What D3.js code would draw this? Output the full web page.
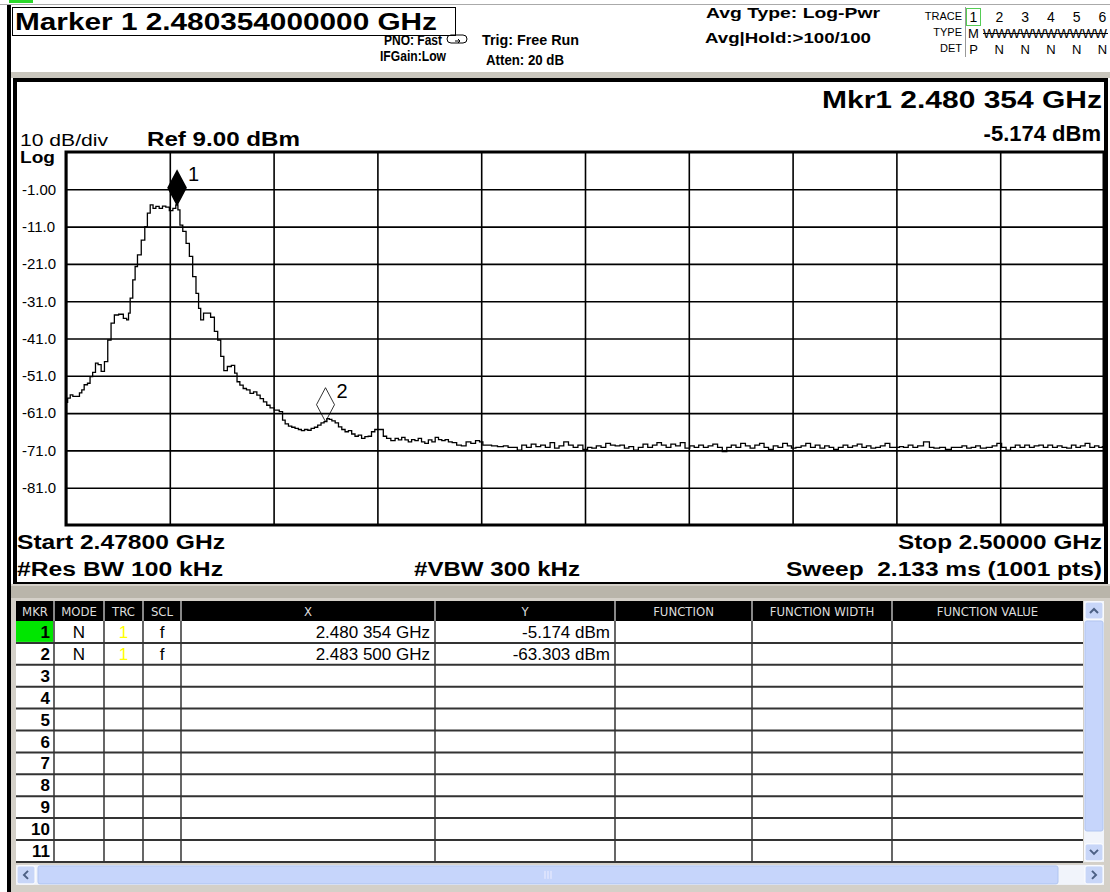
<!DOCTYPE html>
<html>
<head>
<meta charset="utf-8">
<script src="https://cdn.jsdelivr.net/npm/d3@7"></script>
<style>
  body { margin: 0; background: #fff; }
  text { font-family: "Liberation Sans", Arial, sans-serif; }
  .narrow { font-family: "Liberation Sans Narrow", "DejaVu Sans Condensed", "Liberation Sans", sans-serif; }
</style>
</head>
<body>
<svg id="chart" width="1110" height="892"></svg>
<script>
const svg = d3.select('#chart');

// trace 1 (MHz, dBm)
const traceFreq = [
  2478.00, 2478.07, 2478.11, 2478.18, 2478.25, 2478.32, 2478.35, 2478.42, 2478.49, 2478.53,
  2478.60, 2478.65, 2478.71, 2478.78, 2478.85, 2478.92, 2478.99, 2479.06, 2479.17, 2479.26,
  2479.31, 2479.34, 2479.38, 2479.45, 2479.48, 2479.55, 2479.64, 2479.70, 2479.75, 2479.82,
  2479.87, 2479.94, 2480.01, 2480.08, 2480.15, 2480.23, 2480.30, 2480.354, 2480.39, 2480.44,
  2480.51, 2480.58, 2480.65, 2480.72, 2480.79, 2480.83, 2480.88, 2480.95, 2481.02, 2481.11,
  2481.18, 2481.25, 2481.31, 2481.38, 2481.46, 2481.55, 2481.60, 2481.65, 2481.72, 2481.79,
  2481.86, 2481.94, 2482.01, 2482.08, 2482.15, 2482.22, 2482.29, 2482.36, 2482.47, 2482.57,
  2482.61, 2482.68, 2482.75, 2482.82, 2482.89, 2482.96, 2483.02, 2483.09, 2483.16, 2483.23,
  2483.30, 2483.37, 2483.44, 2483.50, 2483.56, 2483.60, 2483.67, 2483.74, 2483.81, 2483.88,
  2483.95, 2484.02, 2484.09, 2484.16, 2484.23, 2484.30, 2484.37, 2484.44, 2484.51, 2484.58,
  2484.69, 2484.76, 2484.83, 2484.94, 2485.01, 2485.08, 2485.15, 2485.22, 2485.29, 2485.36,
  2485.43, 2485.50, 2485.57, 2485.64, 2485.72, 2485.79, 2485.86, 2485.93, 2486.00, 2486.07,
  2486.14, 2486.23, 2486.33, 2486.43, 2486.53, 2486.63, 2486.73, 2486.80, 2486.87, 2486.97,
  2487.07, 2487.22, 2487.32, 2487.42, 2487.52, 2487.61, 2487.71, 2487.81, 2487.91, 2488.01,
  2488.11, 2488.21, 2488.31, 2488.40, 2488.50, 2488.60, 2488.70, 2488.80, 2488.90, 2489.01,
  2489.10, 2489.19, 2489.29, 2489.39, 2489.49, 2489.59, 2489.69, 2489.79, 2489.88, 2489.98,
  2490.08, 2490.18, 2490.28, 2490.38, 2490.48, 2490.57, 2490.67, 2490.77, 2490.87, 2490.97,
  2491.07, 2491.17, 2491.27, 2491.36, 2491.46, 2491.56, 2491.66, 2491.76, 2491.86, 2491.96,
  2492.05, 2492.15, 2492.25, 2492.35, 2492.45, 2492.55, 2492.65, 2492.75, 2492.84, 2492.94,
  2493.04, 2493.14, 2493.24, 2493.34, 2493.41, 2493.53, 2493.63, 2493.73, 2493.83, 2493.93,
  2494.03, 2494.13, 2494.22, 2494.32, 2494.42, 2494.52, 2494.62, 2494.72, 2494.82, 2494.92,
  2495.01, 2495.11, 2495.21, 2495.31, 2495.41, 2495.51, 2495.63, 2495.70, 2495.80, 2495.90,
  2496.00, 2496.10, 2496.25, 2496.35, 2496.44, 2496.59, 2496.69, 2496.84, 2496.94, 2497.04,
  2497.14, 2497.23, 2497.33, 2497.43, 2497.58, 2497.68, 2497.78, 2497.88, 2497.97, 2498.07,
  2498.17, 2498.27, 2498.37, 2498.47, 2498.57, 2498.67, 2498.76, 2498.86, 2498.96, 2499.06,
  2499.16, 2499.26, 2499.36, 2499.45, 2499.55, 2499.65, 2499.75, 2499.85, 2499.93, 2500.00
];
const traceLevel = [
  -58.1, -57.0, -56.1, -56.5, -56.5, -55.6, -54.8, -53.4, -53.0, -51.2,
  -50.1, -47.6, -48.0, -49.8, -47.2, -41.4, -36.9, -34.7, -34.5, -35.6,
  -36.0, -34.2, -30.2, -25.3, -21.7, -18.6, -14.6, -11.0, -7.4, -5.2,
  -6.1, -5.6, -6.1, -5.5, -5.8, -6.7, -6.1, -5.174, -6.5, -10.6,
  -12.3, -15.5, -19.0, -24.4, -28.9, -32.9, -36.0, -34.2, -34.2, -35.3,
  -39.1, -41.4, -45.8, -49.6, -48.5, -48.2, -50.3, -52.6, -53.5, -54.4,
  -54.8, -55.7, -55.3, -56.2, -57.1, -58.0, -58.9, -59.6, -60.2, -60.6,
  -62.9, -63.9, -64.5, -64.8, -65.1, -65.4, -65.7, -65.4, -65.6, -65.1,
  -64.8, -64.2, -63.6, -63.303, -62.5, -62.7, -63.1, -63.6, -64.7, -65.4,
  -66.0, -65.7, -66.6, -67.2, -66.9, -67.8, -67.3, -67.2, -66.0, -65.4,
  -65.4, -67.2, -67.8, -68.4, -67.8, -68.2, -67.5, -68.2, -68.7, -68.1,
  -68.4, -67.8, -68.7, -69.1, -68.2, -68.7, -67.5, -68.1, -68.4, -68.1,
  -68.7, -68.9, -69.6, -69.8, -68.7, -69.1, -68.4, -68.7, -69.6, -69.6,
  -69.8, -70.0, -69.8, -70.2, -70.2, -70.9, -69.6, -70.2, -69.3, -70.0,
  -69.6, -70.2, -68.9, -70.4, -69.8, -68.7, -69.6, -70.2, -69.6, -70.7,
  -70.2, -70.4, -69.8, -70.2, -69.1, -69.6, -69.8, -69.6, -70.4, -70.0,
  -70.9, -70.2, -69.3, -70.2, -69.6, -68.9, -69.6, -70.2, -69.3, -69.8,
  -68.9, -70.4, -69.8, -70.2, -69.6, -70.2, -69.8, -69.3, -70.2, -71.3,
  -70.2, -69.6, -70.2, -69.1, -69.8, -70.4, -69.6, -69.1, -70.2, -70.7,
  -69.8, -70.2, -69.1, -69.8, -70.4, -70.2, -69.8, -69.1, -70.2, -69.6,
  -70.4, -69.8, -70.2, -70.7, -70.2, -69.6, -70.2, -69.8, -69.3, -70.2,
  -69.8, -70.4, -70.2, -69.8, -69.1, -70.2, -70.2, -70.0, -70.2, -69.6,
  -70.2, -69.8, -68.7, -70.2, -70.4, -70.2, -70.7, -70.2, -70.2, -69.8,
  -70.4, -70.2, -69.8, -70.4, -70.2, -69.8, -69.1, -70.2, -70.9, -70.2,
  -69.6, -70.2, -69.6, -70.2, -69.8, -69.6, -70.2, -69.6, -70.2, -69.8,
  -70.2, -70.4, -69.6, -70.2, -69.8, -69.1, -70.2, -69.8, -70.2, -70.0
];

// markers
const markerIds = ['1', '2'];
const markerFreq = [2480.354, 2483.500];
const markerLevel = [-5.174, -63.303];
const markerXText = ['2.480 354 GHz', '2.483 500 GHz'];
const markerYText = ['-5.174 dBm', '-63.303 dBm'];

// graticule
const yTicks = [-1, -11, -21, -31, -41, -51, -61, -71, -81];
const yTickLabels = ['-1.00', '-11.0', '-21.0', '-31.0', '-41.0', '-51.0', '-61.0', '-71.0', '-81.0'];
const xTicks = [2478, 2480.2, 2482.4, 2484.6, 2486.8, 2489, 2491.2, 2493.4, 2495.6, 2497.8, 2500];

// marker table
const tableCols = ['MKR', 'MODE', 'TRC', 'SCL', 'X', 'Y', 'FUNCTION', 'FUNCTION WIDTH', 'FUNCTION VALUE'];
const tableEdges = [16, 54, 104, 143, 181, 435, 615, 752, 892, 1083];
const tableRows = ['1', '2', '3', '4', '5', '6', '7', '8', '9', '10', '11'];

const plot = { left: 66, right: 1104, top: 152, bottom: 525 };

const xScale = d3.scaleLinear().domain([2478, 2500]).range([plot.left, plot.right]);
const yScale = d3.scaleLinear().domain([-91, 9]).range([plot.bottom, plot.top]);

// ---------- window chrome ----------
svg.append('rect').attr('width', 1110).attr('height', 892).attr('fill', '#fff');
svg.append('line').attr('x1', 0).attr('x2', 1110).attr('y1', 4.5).attr('y2', 4.5)
  .attr('stroke', '#aaa').attr('stroke-width', 1);
svg.append('rect').attr('x', 9).attr('y', 0).attr('width', 24).attr('height', 3).attr('fill', '#2bd82b');
svg.append('rect').attr('x', 7).attr('y', 5).attr('width', 4).attr('height', 887).attr('fill', '#000');

// ---------- header ----------
const head = svg.append('g');
head.append('rect').attr('x', 12.5).attr('y', 7.5).attr('width', 443).attr('height', 28)
  .attr('fill', 'none').attr('stroke', '#000');
head.append('text').attr('x', 15).attr('y', 30).attr('font-size', 23).attr('font-weight', 'bold')
  .attr('textLength', 422).attr('lengthAdjust', 'spacingAndGlyphs')
  .text('Marker 1 2.480354000000 GHz');

const smallBold = (x, y, size, len, str, anchor) => head.append('text')
  .attr('x', x).attr('y', y).attr('font-size', size).attr('font-weight', 'bold')
  .attr('text-anchor', anchor || 'start')
  .attr('textLength', len).attr('lengthAdjust', 'spacingAndGlyphs').text(str);

smallBold(384, 45, 14, 58, 'PNO: Fast');
smallBold(380, 61, 14, 66, 'IFGain:Low');
smallBold(482, 45, 14, 97, 'Trig: Free Run');
smallBold(486, 65, 14, 78, 'Atten: 20 dB');
smallBold(706, 18, 14, 174, 'Avg Type: Log-Pwr');
smallBold(705, 43, 14, 166, 'Avg|Hold:>100/100');

// trig icon
head.append('path')
  .attr('d', 'M451,35 h12 a4,4 0 0 1 0,8 h-12 a4,4 0 0 1 0,-8 Z')
  .attr('fill', 'none').attr('stroke', '#000').attr('stroke-width', 1);
head.append('path').attr('d', 'M455,41 l5,0 l-2,-2 M460,41 l-2,2').attr('stroke', '#000').attr('fill', 'none');

// trace info block
const ti = head.append('g').attr('class', 'narrow');
['TRACE', 'TYPE', 'DET'].forEach((s, i) => {
  ti.append('text').attr('x', 962).attr('y', 20 + i * 16).attr('font-size', 11)
    .attr('text-anchor', 'end').text(s);
});
head.append('line').attr('x1', 965.5).attr('x2', 965.5).attr('y1', 7).attr('y2', 57).attr('stroke', '#999');
const traceNums = ['1', '2', '3', '4', '5', '6'];
head.append('rect').attr('x', 966.5).attr('y', 8.5).attr('width', 14).attr('height', 17)
  .attr('fill', 'none').attr('stroke', '#5c5').attr('stroke-width', 1);
traceNums.forEach((s, i) => {
  head.append('text').attr('x', 973.5 + i * 25.8).attr('y', 22).attr('font-size', 14)
    .attr('text-anchor', 'middle').text(s);
  head.append('text').attr('x', 973.5 + i * 25.8).attr('y', 54).attr('font-size', 13)
    .attr('text-anchor', 'middle').text(i === 0 ? 'P' : 'N');
});
head.append('text').attr('x', 973.5).attr('y', 38).attr('font-size', 13)
  .attr('text-anchor', 'middle').text('M');
head.append('text').attr('x', 983).attr('y', 38).attr('font-size', 13)
  .attr('textLength', 124).attr('lengthAdjust', 'spacingAndGlyphs').text('WWWWWWWWWW');
head.append('line').attr('x1', 983).attr('x2', 1108).attr('y1', 33.5).attr('y2', 33.5).attr('stroke', '#000');

// ---------- screen panel ----------
svg.append('rect').attr('x', 11).attr('y', 72).attr('width', 1099).attr('height', 6).attr('fill', '#c9c6bd');
svg.append('rect').attr('x', 15).attr('y', 80).attr('width', 1091).attr('height', 504)
  .attr('fill', '#fff').attr('stroke', '#000').attr('stroke-width', 4);

const scr = svg.append('g');
scr.append('text').attr('x', 1102).attr('y', 108).attr('font-size', 23).attr('font-weight', 'bold')
  .attr('text-anchor', 'end').attr('textLength', 280).attr('lengthAdjust', 'spacingAndGlyphs')
  .text('Mkr1 2.480 354 GHz');
scr.append('text').attr('x', 1101).attr('y', 141).attr('font-size', 22).attr('font-weight', 'bold')
  .attr('text-anchor', 'end')
  .text('-5.174 dBm');
scr.append('text').attr('x', 20).attr('y', 146).attr('font-size', 16)
  .attr('textLength', 88).attr('lengthAdjust', 'spacingAndGlyphs').text('10 dB/div');
scr.append('text').attr('x', 20).attr('y', 163).attr('font-size', 16).attr('font-weight', 'bold')
  .attr('textLength', 35).attr('lengthAdjust', 'spacingAndGlyphs').text('Log');
scr.append('text').attr('x', 147).attr('y', 146).attr('font-size', 21).attr('font-weight', 'bold')
  .attr('textLength', 153).attr('lengthAdjust', 'spacingAndGlyphs').text('Ref 9.00 dBm');

// grid
const gridY = scr.append('g')
  .attr('transform', `translate(${plot.left},0)`)
  .call(d3.axisLeft(yScale).tickValues(yTicks).tickSize(-(plot.right - plot.left))
    .tickFormat((d, i) => yTickLabels[i]));
gridY.select('.domain').remove();
gridY.selectAll('line').attr('stroke', '#000').attr('stroke-width', 1.6);
gridY.selectAll('text').attr('x', 22 - plot.left).attr('text-anchor', 'start')
  .attr('font-size', 15).attr('font-family', '"Liberation Sans", Arial, sans-serif').attr('fill', '#000');

const gridX = scr.append('g')
  .attr('transform', `translate(0,${plot.bottom})`)
  .call(d3.axisBottom(xScale).tickValues(xTicks).tickSize(-(plot.bottom - plot.top)).tickFormat(''));
gridX.select('.domain').remove();
gridX.selectAll('line').attr('stroke', '#000').attr('stroke-width', 1.6);

scr.append('rect').attr('x', plot.left).attr('y', plot.top)
  .attr('width', plot.right - plot.left).attr('height', plot.bottom - plot.top)
  .attr('fill', 'none').attr('stroke', '#000').attr('stroke-width', 3);

// trace
const traceData = traceFreq.map((f, i) => [f, traceLevel[i]]);
scr.append('path').datum(traceData)
  .attr('fill', 'none').attr('stroke', '#000').attr('stroke-width', 1.3)
  .attr('d', d3.line().x(d => xScale(d[0])).y(d => yScale(d[1])).curve(d3.curveStep));

// markers
markerIds.forEach((id, i) => {
  const mx = xScale(markerFreq[i]);
  const my = yScale(markerLevel[i]);
  scr.append('path')
    .attr('d', `M${mx},${my} L${mx + 9},${my - 17} L${mx},${my - 34} L${mx - 9},${my - 17} Z`)
    .attr('fill', i === 0 ? '#000' : 'none')
    .attr('stroke', '#000').attr('stroke-width', i === 0 ? 1.5 : 0.8);
  scr.append('text').attr('x', mx + 11).attr('y', my - 24).attr('font-size', 20).text(id);
});

// bottom annotations
const bot = [
  { x: 17, y: 549, a: 'start', len: 208, s: 'Start 2.47800 GHz' },
  { x: 1102, y: 549, a: 'end', len: 204, s: 'Stop 2.50000 GHz' },
  { x: 17, y: 576, a: 'start', len: 206, s: '#Res BW 100 kHz' },
  { x: 414, y: 576, a: 'start', len: 166, s: '#VBW 300 kHz' },
  { x: 1102, y: 576, a: 'end', len: 316, s: 'Sweep  2.133 ms (1001 pts)' }
];
bot.forEach(b => {
  scr.append('text').attr('x', b.x).attr('y', b.y).attr('font-size', 20).attr('font-weight', 'bold')
    .attr('text-anchor', b.a).attr('textLength', b.len).attr('lengthAdjust', 'spacingAndGlyphs')
    .attr('xml:space', 'preserve').text(b.s);
});

// ---------- marker table ----------
const tbl = svg.append('g');
tbl.append('rect').attr('x', 11).attr('y', 584).attr('width', 1099).attr('height', 308).attr('fill', '#d4d0c8');
tbl.append('rect').attr('x', 11).attr('y', 586).attr('width', 1099).attr('height', 12).attr('fill', '#b9b5aa');

const headTop = 601, headH = 20, rowH = 21.9;
const tableBottom = headTop + headH + rowH * tableRows.length;
tbl.append('rect').attr('x', tableEdges[0]).attr('y', headTop).attr('width', tableEdges[9] - tableEdges[0])
  .attr('height', headH).attr('fill', '#000');
tbl.append('rect').attr('x', tableEdges[0]).attr('y', headTop + headH)
  .attr('width', tableEdges[9] - tableEdges[0]).attr('height', tableBottom - headTop - headH).attr('fill', '#fff');

tableCols.forEach((c, i) => {
  const x0 = tableEdges[i], x1 = tableEdges[i + 1];
  tbl.append('text').attr('class', 'narrow').attr('x', (x0 + x1) / 2).attr('y', headTop + 15)
    .attr('font-size', 13).attr('fill', '#ddd').attr('text-anchor', 'middle').text(c);
  if (i > 0) {
    tbl.append('line').attr('x1', x0).attr('x2', x0).attr('y1', headTop).attr('y2', headTop + headH)
      .attr('stroke', '#888').attr('stroke-width', 2);
    tbl.append('line').attr('x1', x0).attr('x2', x0).attr('y1', headTop + headH).attr('y2', tableBottom)
      .attr('stroke', '#000').attr('stroke-width', 1.2);
  }
});

tableRows.forEach((r, i) => {
  const top = headTop + headH + i * rowH;
  if (i === 0) {
    tbl.append('rect').attr('x', tableEdges[0]).attr('y', top).attr('width', tableEdges[1] - tableEdges[0] - 1)
      .attr('height', rowH - 1).attr('fill', '#00e600');
  }
  tbl.append('line').attr('x1', tableEdges[0]).attr('x2', tableEdges[9])
    .attr('y1', top + rowH).attr('y2', top + rowH).attr('stroke', '#333').attr('stroke-width', 2);
  tbl.append('text').attr('x', tableEdges[1] - 4).attr('y', top + 17).attr('font-size', 17)
    .attr('font-weight', 'bold').attr('text-anchor', 'end').text(r);
  if (i < markerIds.length) {
    const cells = [
      { c: 1, s: 'N', a: 'middle', fill: '#000' },
      { c: 2, s: '1', a: 'middle', fill: '#ffff00' },
      { c: 3, s: 'f', a: 'middle', fill: '#000' },
      { c: 4, s: markerXText[i], a: 'end', fill: '#000' },
      { c: 5, s: markerYText[i], a: 'end', fill: '#000' }
    ];
    cells.forEach(k => {
      const x = k.a === 'end' ? tableEdges[k.c + 1] - 5 : (tableEdges[k.c] + tableEdges[k.c + 1]) / 2;
      tbl.append('text').attr('x', x).attr('y', top + 17).attr('font-size', 17)
        .attr('text-anchor', k.a).attr('fill', k.fill).text(k.s);
    });
  }
});

// vertical scrollbar
const vs = { x: 1084, w: 20 };
tbl.append('rect').attr('x', vs.x).attr('y', headTop).attr('width', vs.w).attr('height', tableBottom - headTop)
  .attr('fill', '#f1f4fb');
tbl.append('rect').attr('x', vs.x + 1).attr('y', headTop + 1).attr('width', vs.w - 2).attr('height', 17)
  .attr('rx', 2).attr('fill', '#c8d6f8').attr('stroke', '#fff');
tbl.append('rect').attr('x', vs.x + 1).attr('y', headTop + 20).attr('width', vs.w - 2).attr('height', 210)
  .attr('rx', 2).attr('fill', '#c6d5fb').attr('stroke', '#b1c5f0');
tbl.append('rect').attr('x', vs.x + 1).attr('y', tableBottom - 18).attr('width', vs.w - 2).attr('height', 17)
  .attr('rx', 2).attr('fill', '#c8d6f8').attr('stroke', '#fff');
tbl.append('path').attr('d', `M${vs.x + 6},${headTop + 12} l4,-4 l4,4`).attr('fill', 'none')
  .attr('stroke', '#4d6185').attr('stroke-width', 2);
tbl.append('path').attr('d', `M${vs.x + 6},${tableBottom - 12} l4,4 l4,-4`).attr('fill', 'none')
  .attr('stroke', '#4d6185').attr('stroke-width', 2);

// horizontal scrollbar
const hsY = tableBottom + 3;
tbl.append('rect').attr('x', tableEdges[0]).attr('y', hsY).attr('width', 1088).attr('height', 20).attr('fill', '#f1f4fb');
tbl.append('rect').attr('x', tableEdges[0] + 1).attr('y', hsY + 1).attr('width', 18).attr('height', 18)
  .attr('rx', 2).attr('fill', '#c8d6f8').attr('stroke', '#fff');
tbl.append('rect').attr('x', tableEdges[0] + 22).attr('y', hsY + 1).attr('width', 1020).attr('height', 18)
  .attr('rx', 2).attr('fill', '#c6d5fb').attr('stroke', '#b1c5f0');
tbl.append('rect').attr('x', 1085).attr('y', hsY + 1).attr('width', 18).attr('height', 18)
  .attr('rx', 2).attr('fill', '#c8d6f8').attr('stroke', '#fff');
tbl.append('path').attr('d', `M${tableEdges[0] + 12},${hsY + 6} l-4,4 l4,4`).attr('fill', 'none')
  .attr('stroke', '#4d6185').attr('stroke-width', 2);
tbl.append('path').attr('d', `M1092,${hsY + 6} l4,4 l-4,4`).attr('fill', 'none')
  .attr('stroke', '#4d6185').attr('stroke-width', 2);
[0, 3, 6].forEach(d => {
  tbl.append('line').attr('x1', 545 + d).attr('x2', 545 + d).attr('y1', hsY + 6).attr('y2', hsY + 14)
    .attr('stroke', '#eef').attr('stroke-width', 1);
});
</script>
</body>
</html>
